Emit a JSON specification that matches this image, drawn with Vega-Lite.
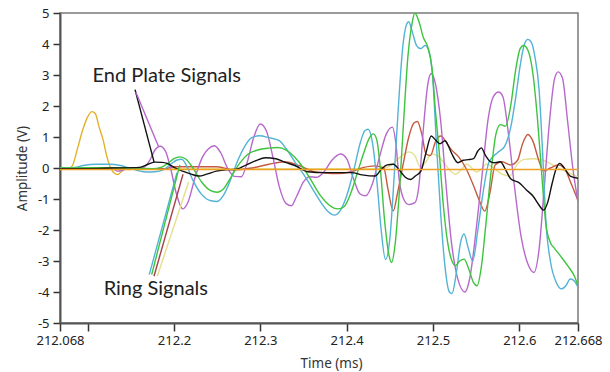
{
"$schema":"https://vega.github.io/schema/vega-lite/v6.json",
"autosize":"none","width":518,"height":310,
"padding":{"left":60,"top":13,"right":32,"bottom":49},
"background":"white",
"config":{"view":{"stroke":"#7a7a7a","strokeWidth":1.5},"font":"Noto Sans",
"axis":{"labelOverlap":false,"grid":false,"domainColor":"#555","domainWidth":2,"tickColor":"#333","tickWidth":1.5,"labelFontSize":13,"labelColor":"#222","labelFont":"Noto Sans","labelFlush":false,"titleFont":"Noto Sans","titleFontSize":13.5,"titleFontWeight":"normal","titleColor":"#333"},
"axisX":{"tickSize":8,"labelPadding":3,"labelBound":false,"titleX":271,"titleY":33},
"axisY":{"tickSize":7,"labelPadding":4,"titleX":-31,"titleY":155}},
"layer":[
{"data":{"values":[
{"s":"yellow","t":212.068,"v":0},{"s":"yellow","t":212.2,"v":-0.02},{"s":"yellow","t":212.44,"v":-0.02},{"s":"yellow","t":212.452,"v":0.1},{"s":"yellow","t":212.462,"v":0.35},{"s":"yellow","t":212.472,"v":0.52},{"s":"yellow","t":212.479,"v":0.4},{"s":"yellow","t":212.485,"v":0.05},{"s":"yellow","t":212.492,"v":0.2},{"s":"yellow","t":212.498,"v":0.45},{"s":"yellow","t":212.505,"v":0.4},{"s":"yellow","t":212.512,"v":0.2},{"s":"yellow","t":212.519,"v":-0.05},{"s":"yellow","t":212.526,"v":-0.2},{"s":"yellow","t":212.533,"v":-0.05},{"s":"yellow","t":212.539,"v":0.13},{"s":"yellow","t":212.545,"v":0},{"s":"yellow","t":212.551,"v":-0.13},{"s":"yellow","t":212.557,"v":0},{"s":"yellow","t":212.562,"v":0.13},{"s":"yellow","t":212.57,"v":0},{"s":"yellow","t":212.58,"v":-0.2},{"s":"yellow","t":212.589,"v":-0.26},{"s":"yellow","t":212.597,"v":0.1},{"s":"yellow","t":212.606,"v":0.28},{"s":"yellow","t":212.616,"v":0.3},{"s":"yellow","t":212.625,"v":0.27},{"s":"yellow","t":212.632,"v":0.2},{"s":"yellow","t":212.64,"v":0.08},{"s":"yellow","t":212.647,"v":-0.03},{"s":"yellow","t":212.657,"v":-0.15},{"s":"yellow","t":212.668,"v":-0.3},
{"s":"gold","t":212.068,"v":0},{"s":"gold","t":212.078,"v":0},{"s":"gold","t":212.082,"v":0.06},{"s":"gold","t":212.088,"v":0.6},{"s":"gold","t":212.094,"v":1.2},{"s":"gold","t":212.1,"v":1.65},{"s":"gold","t":212.105,"v":1.82},{"s":"gold","t":212.109,"v":1.75},{"s":"gold","t":212.113,"v":1.35},{"s":"gold","t":212.118,"v":0.9},{"s":"gold","t":212.122,"v":0.4},{"s":"gold","t":212.126,"v":0.05},{"s":"gold","t":212.131,"v":-0.17},{"s":"gold","t":212.135,"v":-0.21},{"s":"gold","t":212.139,"v":-0.12},{"s":"gold","t":212.143,"v":-0.04},{"s":"gold","t":212.15,"v":-0.05},
{"s":"red","t":212.068,"v":-0.02},{"s":"red","t":212.19,"v":-0.02},{"s":"red","t":212.2,"v":0.04},{"s":"red","t":212.25,"v":0.04},{"s":"red","t":212.27,"v":-0.06},{"s":"red","t":212.29,"v":0},{"s":"red","t":212.31,"v":0.12},{"s":"red","t":212.328,"v":0.2},{"s":"red","t":212.345,"v":0.08},{"s":"red","t":212.36,"v":-0.1},{"s":"red","t":212.375,"v":-0.16},{"s":"red","t":212.39,"v":-0.18},{"s":"red","t":212.405,"v":-0.12},{"s":"red","t":212.42,"v":0.02},{"s":"red","t":212.432,"v":0.07},{"s":"red","t":212.443,"v":0},{"s":"red","t":212.448,"v":-0.7},{"s":"red","t":212.454,"v":-1.38},{"s":"red","t":212.459,"v":-0.8},{"s":"red","t":212.466,"v":0.2},{"s":"red","t":212.472,"v":1.0},{"s":"red","t":212.478,"v":1.45},{"s":"red","t":212.482,"v":1.5},{"s":"red","t":212.487,"v":1.1},{"s":"red","t":212.492,"v":0.45},{"s":"red","t":212.497,"v":0.4},{"s":"red","t":212.503,"v":0.85},{"s":"red","t":212.509,"v":1.03},{"s":"red","t":212.515,"v":0.85},{"s":"red","t":212.521,"v":0.6},{"s":"red","t":212.53,"v":0.35},{"s":"red","t":212.538,"v":0},{"s":"red","t":212.546,"v":-0.5},{"s":"red","t":212.553,"v":-1.0},{"s":"red","t":212.56,"v":-1.39},{"s":"red","t":212.566,"v":-0.8},{"s":"red","t":212.572,"v":0.1},{"s":"red","t":212.58,"v":0.2},{"s":"red","t":212.59,"v":0.1},{"s":"red","t":212.598,"v":0.25},{"s":"red","t":212.604,"v":0.8},{"s":"red","t":212.61,"v":1.08},{"s":"red","t":212.616,"v":0.85},{"s":"red","t":212.622,"v":0.3},{"s":"red","t":212.628,"v":-0.1},{"s":"red","t":212.636,"v":0},{"s":"red","t":212.645,"v":0.1},{"s":"red","t":212.652,"v":0},{"s":"red","t":212.66,"v":-0.5},{"s":"red","t":212.668,"v":-1.05},
{"s":"magenta","t":212.068,"v":0},{"s":"magenta","t":212.128,"v":0},{"s":"magenta","t":212.134,"v":-0.1},{"s":"magenta","t":212.14,"v":-0.08},{"s":"magenta","t":212.148,"v":0},{"s":"magenta","t":212.165,"v":0.02},{"s":"magenta","t":212.172,"v":0.25},{"s":"magenta","t":212.178,"v":0.58},{"s":"magenta","t":212.184,"v":0.7},{"s":"magenta","t":212.19,"v":0.55},{"s":"magenta","t":212.196,"v":0},{"s":"magenta","t":212.203,"v":-0.85},{"s":"magenta","t":212.21,"v":-1.32},{"s":"magenta","t":212.216,"v":-1.12},{"s":"magenta","t":212.225,"v":-0.25},{"s":"magenta","t":212.233,"v":0.35},{"s":"magenta","t":212.24,"v":0.62},{"s":"magenta","t":212.247,"v":0.72},{"s":"magenta","t":212.254,"v":0.5},{"s":"magenta","t":212.262,"v":0},{"s":"magenta","t":212.27,"v":-0.27},{"s":"magenta","t":212.278,"v":-0.28},{"s":"magenta","t":212.285,"v":0.2},{"s":"magenta","t":212.292,"v":0.95},{"s":"magenta","t":212.3,"v":1.42},{"s":"magenta","t":212.307,"v":1.2},{"s":"magenta","t":212.315,"v":0.3},{"s":"magenta","t":212.322,"v":-0.6},{"s":"magenta","t":212.33,"v":-1.15},{"s":"magenta","t":212.336,"v":-1.22},{"s":"magenta","t":212.342,"v":-0.92},{"s":"magenta","t":212.35,"v":-0.45},{"s":"magenta","t":212.357,"v":-0.28},{"s":"magenta","t":212.365,"v":-0.3},{"s":"magenta","t":212.373,"v":-0.15},{"s":"magenta","t":212.383,"v":0.25},{"s":"magenta","t":212.393,"v":0.45},{"s":"magenta","t":212.4,"v":0.3},{"s":"magenta","t":212.408,"v":-0.35},{"s":"magenta","t":212.415,"v":-0.82},{"s":"magenta","t":212.422,"v":-0.9},{"s":"magenta","t":212.43,"v":-0.5},{"s":"magenta","t":212.438,"v":0.35},{"s":"magenta","t":212.446,"v":1.1},{"s":"magenta","t":212.453,"v":1.32},{"s":"magenta","t":212.457,"v":0.8},{"s":"magenta","t":212.461,"v":-0.4},{"s":"magenta","t":212.466,"v":-1.0},{"s":"magenta","t":212.472,"v":-1.18},{"s":"magenta","t":212.479,"v":-1.12},{"s":"magenta","t":212.484,"v":-0.5},{"s":"magenta","t":212.489,"v":1.3},{"s":"magenta","t":212.494,"v":2.7},{"s":"magenta","t":212.498,"v":3.05},{"s":"magenta","t":212.503,"v":2.7},{"s":"magenta","t":212.509,"v":1.5},{"s":"magenta","t":212.515,"v":-0.5},{"s":"magenta","t":212.521,"v":-2.3},{"s":"magenta","t":212.529,"v":-3.6},{"s":"magenta","t":212.537,"v":-4.0},{"s":"magenta","t":212.543,"v":-3.5},{"s":"magenta","t":212.55,"v":-2.0},{"s":"magenta","t":212.557,"v":-0.2},{"s":"magenta","t":212.564,"v":1.6},{"s":"magenta","t":212.57,"v":2.3},{"s":"magenta","t":212.576,"v":2.45},{"s":"magenta","t":212.581,"v":2.3},{"s":"magenta","t":212.587,"v":1.2},{"s":"magenta","t":212.594,"v":-0.5},{"s":"magenta","t":212.602,"v":-2.2},{"s":"magenta","t":212.61,"v":-3.1},{"s":"magenta","t":212.617,"v":-3.37},{"s":"magenta","t":212.623,"v":-2.6},{"s":"magenta","t":212.629,"v":-0.6},{"s":"magenta","t":212.635,"v":1.5},{"s":"magenta","t":212.641,"v":2.9},{"s":"magenta","t":212.645,"v":3.1},{"s":"magenta","t":212.65,"v":2.9},{"s":"magenta","t":212.656,"v":1.5},{"s":"magenta","t":212.662,"v":0},{"s":"magenta","t":212.668,"v":-1.1},
{"s":"cyan","t":212.068,"v":0},{"s":"cyan","t":212.085,"v":0.02},{"s":"cyan","t":212.095,"v":0.08},{"s":"cyan","t":212.11,"v":0.12},{"s":"cyan","t":212.125,"v":0.12},{"s":"cyan","t":212.138,"v":0.08},{"s":"cyan","t":212.148,"v":0},{"s":"cyan","t":212.158,"v":-0.08},{"s":"cyan","t":212.168,"v":-0.13},{"s":"cyan","t":212.178,"v":-0.12},{"s":"cyan","t":212.188,"v":-0.05},{"s":"cyan","t":212.196,"v":0.12},{"s":"cyan","t":212.203,"v":0.25},{"s":"cyan","t":212.209,"v":0.28},{"s":"cyan","t":212.215,"v":0.05},{"s":"cyan","t":212.222,"v":-0.4},{"s":"cyan","t":212.232,"v":-0.85},{"s":"cyan","t":212.242,"v":-1.05},{"s":"cyan","t":212.25,"v":-1.08},{"s":"cyan","t":212.258,"v":-0.85},{"s":"cyan","t":212.266,"v":-0.35},{"s":"cyan","t":212.274,"v":0.25},{"s":"cyan","t":212.282,"v":0.7},{"s":"cyan","t":212.29,"v":0.98},{"s":"cyan","t":212.299,"v":1.04},{"s":"cyan","t":212.31,"v":0.98},{"s":"cyan","t":212.322,"v":0.88},{"s":"cyan","t":212.33,"v":0.62},{"s":"cyan","t":212.34,"v":0.2},{"s":"cyan","t":212.35,"v":-0.2},{"s":"cyan","t":212.36,"v":-0.65},{"s":"cyan","t":212.37,"v":-1.1},{"s":"cyan","t":212.379,"v":-1.42},{"s":"cyan","t":212.386,"v":-1.52},{"s":"cyan","t":212.392,"v":-1.4},{"s":"cyan","t":212.4,"v":-0.9},{"s":"cyan","t":212.408,"v":-0.1},{"s":"cyan","t":212.416,"v":0.83},{"s":"cyan","t":212.421,"v":1.2},{"s":"cyan","t":212.425,"v":1.25},{"s":"cyan","t":212.43,"v":0.8},{"s":"cyan","t":212.435,"v":-0.4},{"s":"cyan","t":212.44,"v":-2.0},{"s":"cyan","t":212.445,"v":-2.95},{"s":"cyan","t":212.45,"v":-2.3},{"s":"cyan","t":212.455,"v":-0.3},{"s":"cyan","t":212.46,"v":2.0},{"s":"cyan","t":212.465,"v":3.9},{"s":"cyan","t":212.469,"v":4.6},{"s":"cyan","t":212.472,"v":4.72},{"s":"cyan","t":212.476,"v":4.4},{"s":"cyan","t":212.481,"v":3.95},{"s":"cyan","t":212.486,"v":3.85},{"s":"cyan","t":212.491,"v":3.95},{"s":"cyan","t":212.495,"v":3.8},{"s":"cyan","t":212.5,"v":2.8},{"s":"cyan","t":212.504,"v":0.8},{"s":"cyan","t":212.509,"v":-1.5},{"s":"cyan","t":212.514,"v":-3.2},{"s":"cyan","t":212.519,"v":-4.0},{"s":"cyan","t":212.522,"v":-4.05},{"s":"cyan","t":212.527,"v":-3.4},{"s":"cyan","t":212.532,"v":-2.4},{"s":"cyan","t":212.536,"v":-2.13},{"s":"cyan","t":212.541,"v":-2.6},{"s":"cyan","t":212.546,"v":-3.0},{"s":"cyan","t":212.552,"v":-2.0},{"s":"cyan","t":212.558,"v":-0.8},{"s":"cyan","t":212.565,"v":0.2},{"s":"cyan","t":212.575,"v":0.5},{"s":"cyan","t":212.583,"v":0.7},{"s":"cyan","t":212.59,"v":1.3},{"s":"cyan","t":212.596,"v":2.3},{"s":"cyan","t":212.601,"v":3.3},{"s":"cyan","t":212.606,"v":4.0},{"s":"cyan","t":212.61,"v":4.15},{"s":"cyan","t":212.614,"v":4.05},{"s":"cyan","t":212.618,"v":3.6},{"s":"cyan","t":212.623,"v":2.5},{"s":"cyan","t":212.627,"v":0.5},{"s":"cyan","t":212.631,"v":-1.8},{"s":"cyan","t":212.636,"v":-3.0},{"s":"cyan","t":212.643,"v":-3.7},{"s":"cyan","t":212.649,"v":-3.9},{"s":"cyan","t":212.654,"v":-3.8},{"s":"cyan","t":212.659,"v":-3.58},{"s":"cyan","t":212.664,"v":-3.65},{"s":"cyan","t":212.668,"v":-3.85},
{"s":"green","t":212.068,"v":0},{"s":"green","t":212.1,"v":0.01},{"s":"green","t":212.15,"v":0},{"s":"green","t":212.175,"v":-0.02},{"s":"green","t":212.185,"v":0.02},{"s":"green","t":212.193,"v":0.15},{"s":"green","t":212.2,"v":0.3},{"s":"green","t":212.207,"v":0.36},{"s":"green","t":212.214,"v":0.28},{"s":"green","t":212.222,"v":0},{"s":"green","t":212.232,"v":-0.45},{"s":"green","t":212.242,"v":-0.72},{"s":"green","t":212.25,"v":-0.78},{"s":"green","t":212.258,"v":-0.65},{"s":"green","t":212.267,"v":-0.25},{"s":"green","t":212.276,"v":0.15},{"s":"green","t":212.286,"v":0.45},{"s":"green","t":212.297,"v":0.58},{"s":"green","t":212.31,"v":0.64},{"s":"green","t":212.32,"v":0.66},{"s":"green","t":212.33,"v":0.58},{"s":"green","t":212.34,"v":0.35},{"s":"green","t":212.35,"v":0},{"s":"green","t":212.36,"v":-0.45},{"s":"green","t":212.37,"v":-0.9},{"s":"green","t":212.38,"v":-1.2},{"s":"green","t":212.39,"v":-1.32},{"s":"green","t":212.397,"v":-1.25},{"s":"green","t":212.405,"v":-0.8},{"s":"green","t":212.413,"v":-0.1},{"s":"green","t":212.42,"v":0.5},{"s":"green","t":212.426,"v":0.95},{"s":"green","t":212.431,"v":1.1},{"s":"green","t":212.435,"v":0.9},{"s":"green","t":212.439,"v":0},{"s":"green","t":212.444,"v":-1.7},{"s":"green","t":212.449,"v":-2.8},{"s":"green","t":212.452,"v":-3.05},{"s":"green","t":212.456,"v":-2.5},{"s":"green","t":212.461,"v":-0.8},{"s":"green","t":212.466,"v":1.5},{"s":"green","t":212.471,"v":3.6},{"s":"green","t":212.476,"v":4.7},{"s":"green","t":212.479,"v":5.0},{"s":"green","t":212.484,"v":4.7},{"s":"green","t":212.489,"v":4.2},{"s":"green","t":212.494,"v":3.9},{"s":"green","t":212.499,"v":3.2},{"s":"green","t":212.503,"v":1.8},{"s":"green","t":212.507,"v":0.6},{"s":"green","t":212.512,"v":-1.2},{"s":"green","t":212.517,"v":-2.4},{"s":"green","t":212.522,"v":-3.0},{"s":"green","t":212.526,"v":-3.15},{"s":"green","t":212.531,"v":-3.0},{"s":"green","t":212.536,"v":-2.94},{"s":"green","t":212.542,"v":-3.3},{"s":"green","t":212.547,"v":-3.7},{"s":"green","t":212.551,"v":-3.8},{"s":"green","t":212.556,"v":-3.2},{"s":"green","t":212.561,"v":-1.9},{"s":"green","t":212.567,"v":-0.2},{"s":"green","t":212.573,"v":1.1},{"s":"green","t":212.578,"v":1.4},{"s":"green","t":212.584,"v":1.35},{"s":"green","t":212.59,"v":2.0},{"s":"green","t":212.596,"v":3.2},{"s":"green","t":212.601,"v":3.85},{"s":"green","t":212.605,"v":3.95},{"s":"green","t":212.61,"v":3.8},{"s":"green","t":212.616,"v":3.0},{"s":"green","t":212.621,"v":1.6},{"s":"green","t":212.626,"v":-0.2},{"s":"green","t":212.631,"v":-1.86},{"s":"green","t":212.636,"v":-2.4},{"s":"green","t":212.641,"v":-2.6},{"s":"green","t":212.648,"v":-2.85},{"s":"green","t":212.656,"v":-3.15},{"s":"green","t":212.664,"v":-3.5},{"s":"green","t":212.668,"v":-3.8},
{"s":"black","t":212.068,"v":-0.02},{"s":"black","t":212.1,"v":-0.02},{"s":"black","t":212.13,"v":0},{"s":"black","t":212.16,"v":0.02},{"s":"black","t":212.17,"v":0.12},{"s":"black","t":212.178,"v":0.19},{"s":"black","t":212.186,"v":0.18},{"s":"black","t":212.192,"v":0.15},{"s":"black","t":212.2,"v":0.02},{"s":"black","t":212.21,"v":-0.1},{"s":"black","t":212.22,"v":-0.2},{"s":"black","t":212.229,"v":-0.26},{"s":"black","t":212.238,"v":-0.2},{"s":"black","t":212.249,"v":-0.1},{"s":"black","t":212.26,"v":-0.06},{"s":"black","t":212.272,"v":-0.04},{"s":"black","t":212.284,"v":0.1},{"s":"black","t":212.295,"v":0.24},{"s":"black","t":212.306,"v":0.33},{"s":"black","t":212.318,"v":0.3},{"s":"black","t":212.329,"v":0.18},{"s":"black","t":212.34,"v":0.08},{"s":"black","t":212.355,"v":-0.12},{"s":"black","t":212.375,"v":-0.15},{"s":"black","t":212.395,"v":-0.15},{"s":"black","t":212.406,"v":-0.15},{"s":"black","t":212.418,"v":-0.22},{"s":"black","t":212.433,"v":-0.26},{"s":"black","t":212.44,"v":-0.05},{"s":"black","t":212.447,"v":0.1},{"s":"black","t":212.454,"v":0.12},{"s":"black","t":212.462,"v":-0.1},{"s":"black","t":212.468,"v":-0.3},{"s":"black","t":212.474,"v":-0.37},{"s":"black","t":212.48,"v":-0.25},{"s":"black","t":212.486,"v":-0.1},{"s":"black","t":212.492,"v":0.5},{"s":"black","t":212.498,"v":1.03},{"s":"black","t":212.503,"v":0.9},{"s":"black","t":212.508,"v":0.78},{"s":"black","t":212.514,"v":0.88},{"s":"black","t":212.518,"v":0.7},{"s":"black","t":212.522,"v":0.45},{"s":"black","t":212.529,"v":0.17},{"s":"black","t":212.535,"v":0.25},{"s":"black","t":212.541,"v":0.27},{"s":"black","t":212.547,"v":0.3},{"s":"black","t":212.552,"v":0.55},{"s":"black","t":212.556,"v":0.65},{"s":"black","t":212.561,"v":0.4},{"s":"black","t":212.567,"v":0.2},{"s":"black","t":212.572,"v":0.17},{"s":"black","t":212.578,"v":0.2},{"s":"black","t":212.584,"v":-0.05},{"s":"black","t":212.59,"v":-0.35},{"s":"black","t":212.6,"v":-0.48},{"s":"black","t":212.608,"v":-0.7},{"s":"black","t":212.616,"v":-0.91},{"s":"black","t":212.623,"v":-1.2},{"s":"black","t":212.628,"v":-1.36},{"s":"black","t":212.633,"v":-1.1},{"s":"black","t":212.638,"v":-0.5},{"s":"black","t":212.643,"v":0},{"s":"black","t":212.647,"v":0.15},{"s":"black","t":212.652,"v":0},{"s":"black","t":212.659,"v":-0.26},{"s":"black","t":212.668,"v":-0.33},
{"s":"orange","t":212.068,"v":-0.05},{"s":"orange","t":212.668,"v":-0.05},
{"s":"a_black","t":212.1549,"v":2.53},{"s":"a_black","t":212.177,"v":0.19},
{"s":"a_mag","t":212.1558,"v":2.45},{"s":"a_mag","t":212.182,"v":0.7},
{"s":"a_cyan","t":212.1714,"v":-3.44},{"s":"a_cyan","t":212.2035,"v":-0.15},
{"s":"a_green","t":212.1742,"v":-3.44},{"s":"a_green","t":212.2068,"v":0.1},
{"s":"a_red","t":212.1769,"v":-3.49},{"s":"a_red","t":212.2105,"v":-0.2},
{"s":"a_yel","t":212.1807,"v":-3.49},{"s":"a_yel","t":212.217,"v":-0.45}
]},
"mark":{"type":"line","interpolate":"monotone","strokeWidth":1.4,"clip":true},
"encoding":{
"x":{"field":"t","type":"quantitative","scale":{"domain":[212.068,212.668],"nice":false,"zero":false},
"axis":{"title":"Time (ms)","values":[212.068,212.1,212.2,212.3,212.4,212.5,212.6,212.668],"labelExpr":"abs(datum.value-212.1)<0.0001 ? '' : toString(datum.value)","labelOverlap":false}},
"y":{"field":"v","type":"quantitative","scale":{"domain":[-5,5],"nice":false},
"axis":{"title":"Amplitude (V)","values":[-5,-4,-3,-2,-1,0,1,2,3,4,5],"labelExpr":"toString(datum.value)","labelOverlap":false}},
"color":{"field":"s","type":"nominal","legend":null,"sort":null,"scale":{"domain":["yellow","gold","red","magenta","cyan","green","black","orange","a_black","a_mag","a_cyan","a_green","a_red","a_yel"],"range":["#E4E08C","#E3B22B","#C55A40","#B868CC","#52B3D6","#3DC43D","#111111","#F0A020","#111111","#B868CC","#52B3D6","#3DC43D","#A8404A","#E4E08C"]}}
}},
{"data":{"values":[{"label":"End Plate Signals","t":212.1916,"v":2.98},{"label":"Ring Signals","t":212.179,"v":-3.89}]},
"mark":{"type":"text","font":"Lato","fontSize":20,"color":"#222","align":"center","baseline":"middle"},
"encoding":{"x":{"field":"t","type":"quantitative","axis":{"title":"Time (ms)","values":[212.068,212.1,212.2,212.3,212.4,212.5,212.6,212.668],"labelExpr":"abs(datum.value-212.1)<0.0001 ? '' : toString(datum.value)","labelOverlap":false}},
"y":{"field":"v","type":"quantitative","axis":{"title":"Amplitude (V)","values":[-5,-4,-3,-2,-1,0,1,2,3,4,5],"labelExpr":"toString(datum.value)","labelOverlap":false}},
"text":{"field":"label"}}}
]
}
